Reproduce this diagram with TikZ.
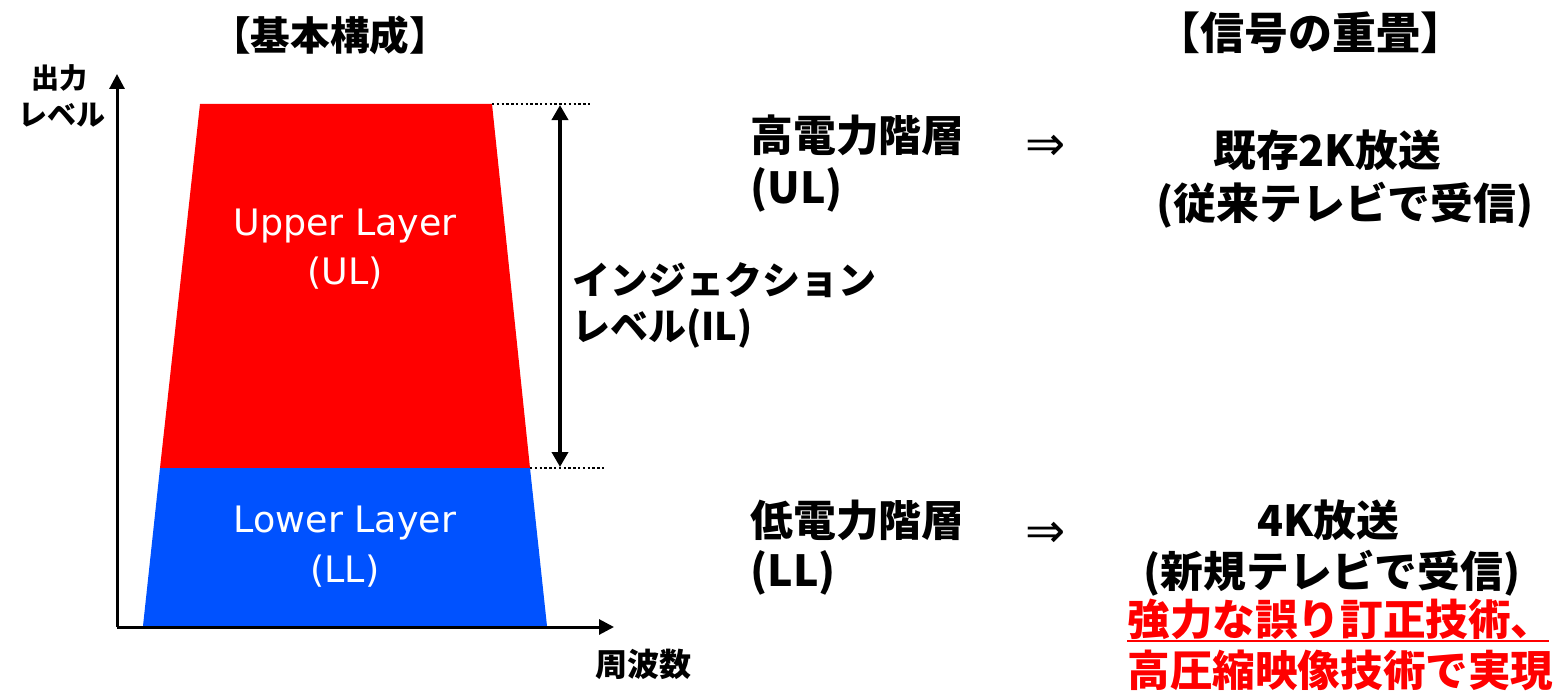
\documentclass[tikz,border=0pt]{standalone}
\usepackage{fontspec}
\setmainfont{Noto Sans CJK JP}
\newfontfamily\latinfont{DejaVu Sans}
\usetikzlibrary{arrows.meta}
\definecolor{ulred}{RGB}{255,0,0}
\definecolor{llblue}{RGB}{0,82,255}
\begin{document}
\begin{tikzpicture}[x=0.5pt,y=-0.5pt,
  txt/.style={inner sep=0pt, font=\bfseries\fontsize{21.4}{24}\selectfont},
  title/.style={inner sep=0pt, font=\bfseries\fontsize{#1}{#1}\selectfont},
  axlbl/.style={inner sep=0pt, font=\bfseries\fontsize{#1}{#1}\selectfont},
  layer/.style={inner sep=0pt, text=white, font=\latinfont\fontsize{18.2}{20}\selectfont},
  redtxt/.style={inner sep=0pt, text=ulred, font=\bfseries\fontsize{21.3}{24}\selectfont},
  implies/.style={inner sep=0pt, font=\latinfont\fontsize{24}{24}\selectfont},
  axis/.style={line width=1.5pt, -{Triangle[width=7.5pt,length=7.5pt]}},
  ilarrow/.style={line width=1.8pt, {Triangle[width=8pt,length=7.5pt]}-{Triangle[width=8pt,length=7.5pt]}},
  dotline/.style={line width=1pt, dash pattern=on 1.2pt off 1.2pt}
]
\useasboundingbox (0,0) rectangle (1556,690);

% layers
\fill[ulred] (200,104) -- (492,104) -- (530,468) -- (160,468) -- cycle;
\fill[llblue] (160,468) -- (530,468) -- (547,626) -- (143,626) -- cycle;

% axes
\coordinate (O) at (117,627);
\coordinate (Ytip) at (117,74);
\coordinate (Xtip) at (614,627);
\draw[axis] (O) -- (Ytip);
\draw[axis] (O) -- (Xtip);

% dotted reference lines
\coordinate (ULtop) at (492,104);
\coordinate (ULtopEnd) at (591,104);
\coordinate (LLtop) at (530,468);
\coordinate (LLtopEnd) at (606,468);
\draw[dotline] (ULtop) -- (ULtopEnd);
\draw[dotline] (LLtop) -- (LLtopEnd);

% injection level arrow
\coordinate (ILa) at (560,105);
\coordinate (ILb) at (560,467);
\draw[ilarrow] (ILa) -- (ILb);

% titles
\node[title=19.8] (t1) at (330,35) {【基本構成】};
\node[title=22] (t2) at (1310,33) {【信号の重畳】};

% axis labels
\node[axlbl=14] (yl1) at (60,78) {出力};
\node[axlbl=14.5] (yl2) at (62,115) {レベル};
\node[axlbl=16] (xl) at (643,664) {周波数};

% layer labels
\node[layer] (ul1) at (345,226) {Upper Layer};
\node[layer] (ul2) at (345,273) {(UL)};
\node[layer] (ll1) at (345,523) {Lower Layer};
\node[layer] (ll2) at (345,571) {(LL)};

% injection level label
\node[txt, font=\bfseries\fontsize{19}{22}\selectfont, anchor=west] (il1) at (572,280) {インジェクション};
\node[txt, font=\bfseries\fontsize{19}{22}\selectfont, anchor=west] (il2) at (572,328) {レベル(IL)};

% hierarchy labels
\node[txt, anchor=west] (h1) at (750,135) {高電力階層};
\node[txt, anchor=west] (h2) at (750,190) {(UL)};
\node[txt, anchor=west] (l1) at (750,520) {低電力階層};
\node[txt, anchor=west] (l2) at (750,573) {(LL)};

% implication arrows
\node[implies] (imp1) at (1046,148) {⇒};
\node[implies] (imp2) at (1046,535) {⇒};

% results
\node[txt] (r1) at (1327,150) {既存2K放送};
\node[txt] (r2) at (1345,205) {(従来テレビで受信)};
\node[txt] (s1) at (1328,520) {4K放送};
\node[txt] (s2) at (1332,573) {(新規テレビで受信)};

% red note
\node[redtxt, anchor=west] (n1) at (1127,619) {強力な誤り訂正技術、};
\node[redtxt, anchor=west] (n2) at (1127,670) {高圧縮映像技術で実現};
\coordinate (uA) at (1127,641);
\coordinate (uB) at (1549,641);
\draw[ulred, line width=1.1pt] (uA) -- (uB);
\end{tikzpicture}
\end{document}
